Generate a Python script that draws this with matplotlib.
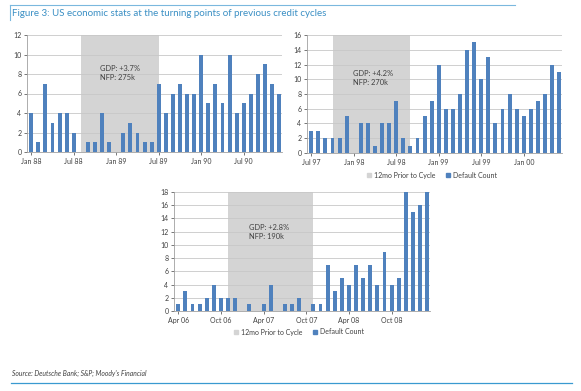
import matplotlib
matplotlib.use("Agg")
import matplotlib.pyplot as plt
from matplotlib.patches import Patch
from matplotlib.lines import Line2D
import numpy as np

plt.rcParams['font.family'] = ['Lato', 'DejaVu Sans']

# ---- data ----
labels1 = ["Jan 88", "Jul 88", "Jan 89", "Jul 89", "Jan 90", "Jul 90"]
counts1 = [4, 1, 7, 3, 4, 4, 2, 0, 1, 1, 4, 1, 0, 2, 3, 2, 1, 1,
           7, 4, 6, 7, 6, 6, 10, 5, 7, 5, 10, 4, 5, 6, 8, 9, 7, 6]
gray1 = (7, 18)
note1 = "GDP: +3.7%\nNFP: 275k"

labels2 = ["Jul 97", "Jan 98", "Jul 98", "Jan 99", "Jul 99", "Jan 00"]
counts2 = [3, 3, 2, 2, 2, 5, 0, 4, 4, 1, 4, 4, 7, 2, 1, 2, 5, 7,
           12, 6, 6, 8, 14, 15, 10, 13, 4, 6, 8, 6, 5, 6, 7, 8, 12, 11]
gray2 = (3, 14)
note2 = "GDP: +4.2%\nNFP: 270k"

labels3 = ["Apr 06", "Oct 06", "Apr 07", "Oct 07", "Apr 08", "Oct 08"]
counts3 = [1, 3, 1, 1, 2, 4, 2, 2, 2, 0, 1, 0, 1, 4, 0, 1, 1, 2,
           0, 1, 1, 7, 3, 5, 4, 7, 5, 7, 4, 9, 4, 5, 20, 15, 16, 22]
gray3 = (7, 19)
note3 = "GDP: +2.8%\nNFP: 190k"

BAR = "#4f81bd"
SHADE = "#d4d4d4"
GRID = "#c8c8c8"
TXT = "#404040"

W, H = 581, 391
fig = plt.figure(figsize=(W / 100, H / 100), dpi=100)


def px_axes(left, top, right, bottom):
    return fig.add_axes([left / W, 1 - bottom / H, (right - left) / W, (bottom - top) / H])


def draw(ax, counts, labels, gray, ymax, note, note_xy):
    x = np.arange(len(counts))
    ax.axvspan(gray[0], gray[1], color=SHADE, lw=0, zorder=0)
    ax.bar(x, counts, width=0.55, color=BAR, zorder=2)
    ax.set_xlim(-0.6, len(counts) - 0.6)
    ax.set_ylim(0, ymax)
    ax.set_yticks(np.arange(0, ymax + 1, 2))
    ax.yaxis.grid(True, color=GRID, lw=0.6, zorder=1)
    ax.set_axisbelow(True)
    ax.set_xticks(np.arange(0, len(counts), 6))
    ax.set_xticklabels(labels)
    ax.tick_params(labelsize=5.0, colors=TXT, length=2, width=0.5, pad=2)
    for s in ("top", "right"):
        ax.spines[s].set_visible(False)
    for s in ("left", "bottom"):
        ax.spines[s].set_color("#a0a0a0")
        ax.spines[s].set_linewidth(0.6)
    ax.text(note_xy[0], note_xy[1], note, transform=ax.transAxes, fontsize=5.4,
            color=TXT, va="top", ha="left", linespacing=1.3, zorder=3)


ax1 = px_axes(27, 35, 282, 152)
draw(ax1, counts1, labels1, gray1, 12, note1, (0.286, 0.74))

ax2 = px_axes(307, 35, 562, 153)
draw(ax2, counts2, labels2, gray2, 16, note2, (0.18, 0.70))

ax3 = px_axes(174, 192, 430, 311)
draw(ax3, counts3, labels3, gray3, 18, note3, (0.293, 0.73))

handles = [Patch(color=SHADE, label="12mo Prior to Cycle"),
           Patch(color=BAR, label="Default Count")]
for cx, cy in ((432, 175), (299, 332)):
    fig.legend(handles=handles, loc="center", bbox_to_anchor=(cx / W, 1 - cy / H),
               ncol=2, frameon=False, fontsize=5.0, handlelength=0.6, handleheight=0.6,
               handletextpad=0.4, columnspacing=1.5, labelcolor=TXT)

# title and frame
TITLE_BLUE = "#3a8fc4"
fig.text(12 / W, 1 - 14 / H, "Figure 3: US economic stats at the turning points of previous credit cycles",
         fontsize=7.0, color=TITLE_BLUE, va="center", ha="left")
fig.add_artist(Line2D([10 / W, 515 / W], [1 - 4.7 / H, 1 - 4.7 / H], color="#7bb8de", lw=0.8))
fig.add_artist(Line2D([10 / W, 10 / W], [1 - 4.7 / H, 1 - 20 / H], color="#7bb8de", lw=0.8))

# source and bottom line
fig.text(12 / W, 1 - 373 / H, "Source: Deutsche Bank; S&P; Moody's Financial",
         fontsize=4.9, style="italic", color=TXT, va="center", ha="left")
fig.add_artist(Line2D([11 / W, 572 / W], [1 - 382.5 / H, 1 - 382.5 / H], color="#3a9ad0", lw=0.9))

fig.savefig("out.png", dpi=100)
